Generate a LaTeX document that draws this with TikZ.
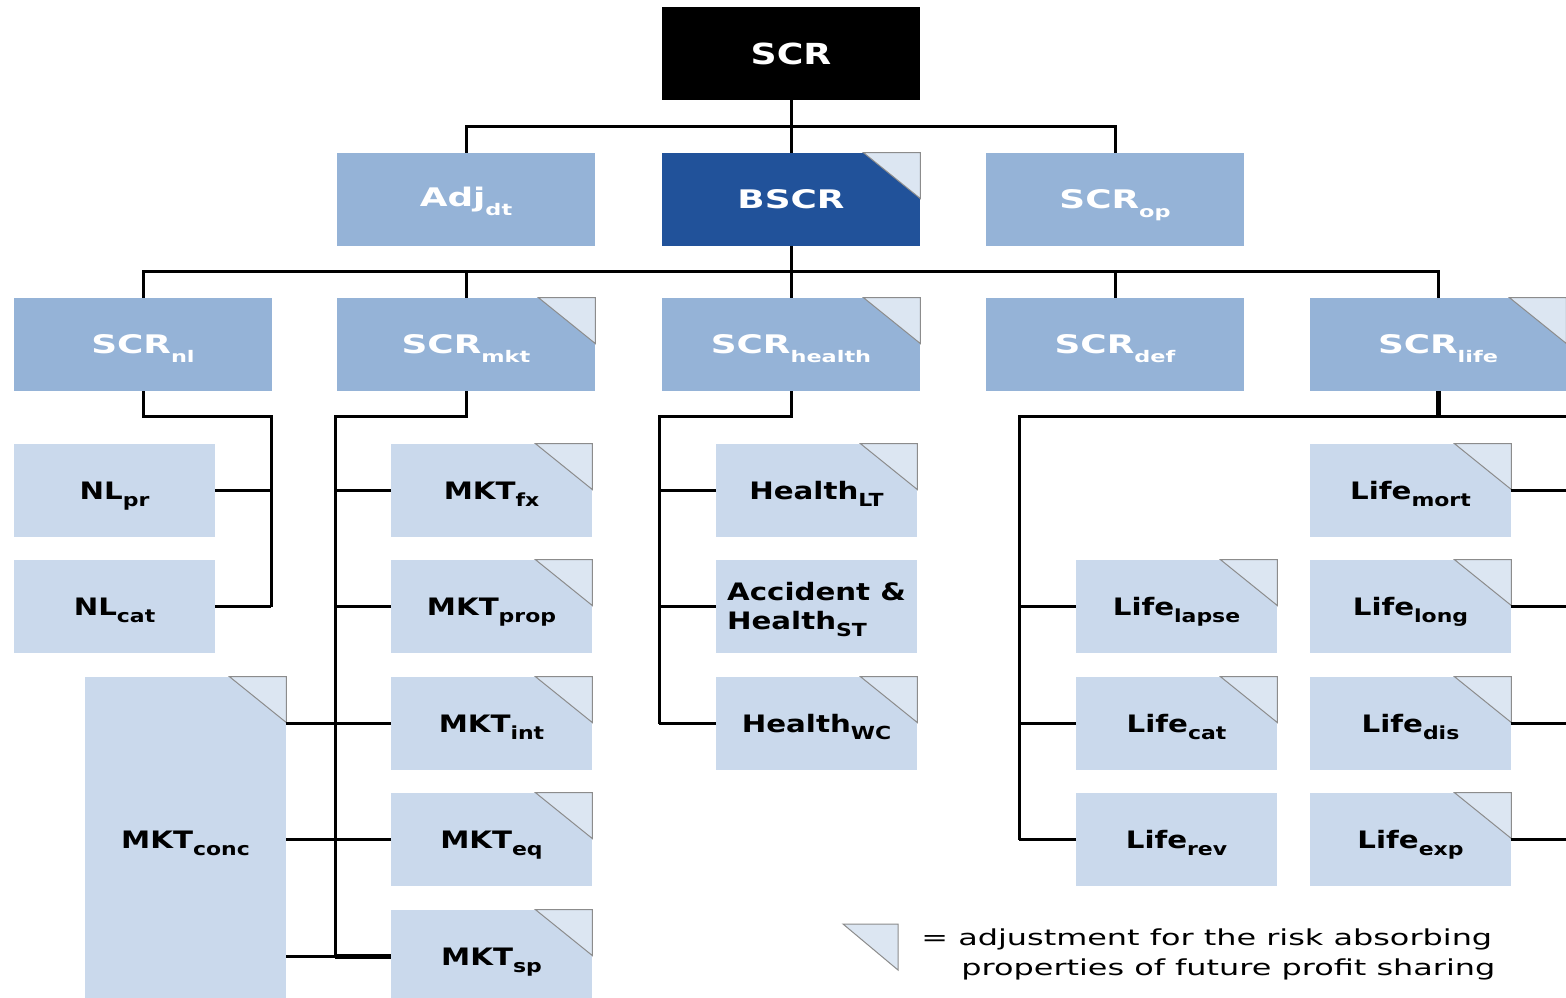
\documentclass[tikz,border=0pt]{standalone}
\usepackage{fontspec}
\setmainfont{DejaVu Sans}
\newfontfamily\topfont[FakeStretch=1.25]{DejaVu Sans}
\newfontfamily\bigfont[FakeStretch=1.4]{DejaVu Sans}
\newfontfamily\smallfont[FakeStretch=1.22]{DejaVu Sans}
\newfontfamily\legfont[FakeStretch=1.45]{DejaVu Sans}
\definecolor{midblue}{RGB}{149,179,215}
\definecolor{darkblue}{RGB}{33,82,154}
\definecolor{lightblue}{RGB}{202,217,236}
\definecolor{trifill}{RGB}{220,230,242}
\definecolor{trigray}{RGB}{140,140,140}
\newcommand\bsub[1]{\raisebox{-4.5pt}[0pt][0pt]{\fontsize{8}{8}\selectfont #1}}
\newcommand\ssub[1]{\raisebox{-3.5pt}[0pt][0pt]{\fontsize{9}{9}\selectfont #1}}
\newcommand\fold[1]{\draw[corner] ([xshift=-28.5pt]#1.north east) -- (#1.north east) -- ([yshift=-23pt]#1.north east) -- cycle;}
\tikzset{
  conn/.style={line width=1.5pt},
  thickconn/.style={line width=2.5pt},
  bigbox/.style={rectangle, minimum width=129pt, minimum height=46.5pt, inner sep=0pt,
    font=\bigfont\bfseries\fontsize{12.8}{15}\selectfont, text=white},
  lvl2/.style={bigbox, fill=midblue},
  smallbox/.style={rectangle, minimum width=100.5pt, minimum height=46.5pt, inner sep=0pt,
    fill=lightblue, font=\smallfont\bfseries\fontsize{12}{14.5}\selectfont, text=black, align=left},
  corner/.style={fill=trifill, draw=trigray, line width=0.5pt},
  legtext/.style={anchor=base west, inner sep=0pt, font=\legfont\fontsize{11}{15}\selectfont}
}
\begin{document}
\begin{tikzpicture}[x=0.5pt,y=-0.5pt]
\useasboundingbox (0,0) rectangle (1566,997);
\clip (0,0) rectangle (1566,997);
\fill[white] (0,0) rectangle (1566,997);
% bus coordinates
\coordinate (nlx) at (271,0);
\coordinate (mktx) at (335,0);
\coordinate (hx) at (659,0);
\coordinate (lx) at (1019,0);
\coordinate (rx) at (1575,0);
\coordinate (y1) at (0,126);
\coordinate (y2) at (0,271);
\coordinate (y3) at (0,416);
% level 1 and 2
\node[bigbox, fill=black, font=\topfont\bfseries\fontsize{14.5}{17}\selectfont] (scr) at (791,53.5) {SCR};
\node[lvl2] (adj) at (466,199.5) {Adj\bsub{dt}};
\node[bigbox, fill=darkblue] (bscr) at (791,199.5) {BSCR};
\node[lvl2] (op) at (1115,199.5) {SCR\bsub{op}};
% level 3
\node[lvl2] (nl) at (143,344.5) {SCR\bsub{nl}};
\node[lvl2] (mkt) at (466,344.5) {SCR\bsub{mkt}};
\node[lvl2] (health) at (791,344.5) {SCR\bsub{health}};
\node[lvl2] (def) at (1115,344.5) {SCR\bsub{def}};
\node[lvl2, minimum width=128pt] (life) at (1438,344.5) {SCR\bsub{life}};
% level 4
\node[smallbox] (nlpr) at (114.5,490.5) {NL\ssub{pr}};
\node[smallbox] (nlcat) at (114.5,606.5) {NL\ssub{cat}};
\node[smallbox] (mktfx) at (491.5,490.5) {MKT\ssub{fx}};
\node[smallbox] (mktprop) at (491.5,606.5) {MKT\ssub{prop}};
\node[smallbox] (mktint) at (491.5,723.5) {MKT\ssub{int}};
\node[smallbox] (mkteq) at (491.5,839.5) {MKT\ssub{eq}};
\node[smallbox] (mktsp) at (491.5,956.5) {MKT\ssub{sp}};
\node[smallbox, minimum height=163pt] (mktconc) at (185.5,840) {MKT\ssub{conc}};
\node[smallbox] (hlt) at (816.5,490.5) {Health\ssub{LT}};
\node[smallbox] (hst) at (816.5,606.5) {Accident \&\\Health\ssub{ST}};
\node[smallbox] (hwc) at (816.5,723.5) {Health\ssub{WC}};
\node[smallbox] (llapse) at (1176.5,606.5) {Life\ssub{lapse}};
\node[smallbox] (lcat) at (1176.5,723.5) {Life\ssub{cat}};
\node[smallbox] (lrev) at (1176.5,839.5) {Life\ssub{rev}};
\node[smallbox] (lmort) at (1410.5,490.5) {Life\ssub{mort}};
\node[smallbox] (llong) at (1410.5,606.5) {Life\ssub{long}};
\node[smallbox] (ldis) at (1410.5,723.5) {Life\ssub{dis}};
\node[smallbox] (lexp) at (1410.5,839.5) {Life\ssub{exp}};
% corners
\foreach \n in {bscr,mkt,health,life,mktfx,mktprop,mktint,mkteq,mktsp,mktconc,hlt,hwc,llapse,lcat,lmort,llong,ldis,lexp}{\fold{\n}}
% connectors level 1-2
\draw[conn] (scr.south) -- (bscr.north);
\draw[conn] (adj.north) -- (adj.north |- y1) -- (op.north |- y1) -- (op.north);
% level 2-3
\draw[conn] (bscr.south) -- (health.north);
\draw[conn] (nl.north) -- (nl.north |- y2) -- (life.north |- y2) -- (life.north);
\draw[conn] (mkt.north) -- (mkt.north |- y2);
\draw[conn] (def.north) -- (def.north |- y2);
% NL
\draw[conn] (nl.south) -- (nl.south |- y3) -- (nlx |- y3) -- (nlx |- nlcat.east);
\draw[conn] (nlpr.east) -- (nlpr.east -| nlx);
\draw[conn] (nlcat.east) -- (nlcat.east -| nlx);
% MKT
\draw[conn] (mkt.south) -- (mkt.south |- y3) -- (mktx |- y3) -- (mktx |- mktsp.west);
\foreach \n in {mktfx,mktprop,mktint,mkteq}{\draw[conn] (mktx |- \n.west) -- (\n.west);}
\draw[thickconn] (mktx |- mktsp.west) -- (mktsp.west);
\draw[conn] (mktconc.east |- mktint.west) -- (mktx |- mktint.west);
\draw[conn] (mktconc.east |- mkteq.west) -- (mktx |- mkteq.west);
\draw[conn] (mktconc.east |- mktsp.west) -- (mktx |- mktsp.west);
% Health
\draw[conn] (health.south) -- (health.south |- y3) -- (hx |- y3) -- (hx |- hwc.west);
\foreach \n in {hlt,hst,hwc}{\draw[conn] (hx |- \n.west) -- (\n.west);}
% Life
\draw[thickconn] (life.south) -- (life.south |- y3);
\draw[conn] (lx |- lrev.west) -- (lx |- y3) -- (rx |- y3);
\foreach \n in {llapse,lcat,lrev}{\draw[conn] (lx |- \n.west) -- (\n.west);}
\foreach \n in {lmort,llong,ldis,lexp}{\draw[conn] (\n.east) -- (\n.east -| rx);}
% legend
\coordinate (t1) at (843,924);
\coordinate (t2) at (898,924);
\coordinate (t3) at (898,970);
\draw[corner] (t1) -- (t2) -- (t3) -- cycle;
\node[legtext] (leg1) at (921,945) {= adjustment for the risk absorbing};
\node[legtext] (leg2) at (961,975) {properties of future profit sharing};
\end{tikzpicture}
\end{document}
